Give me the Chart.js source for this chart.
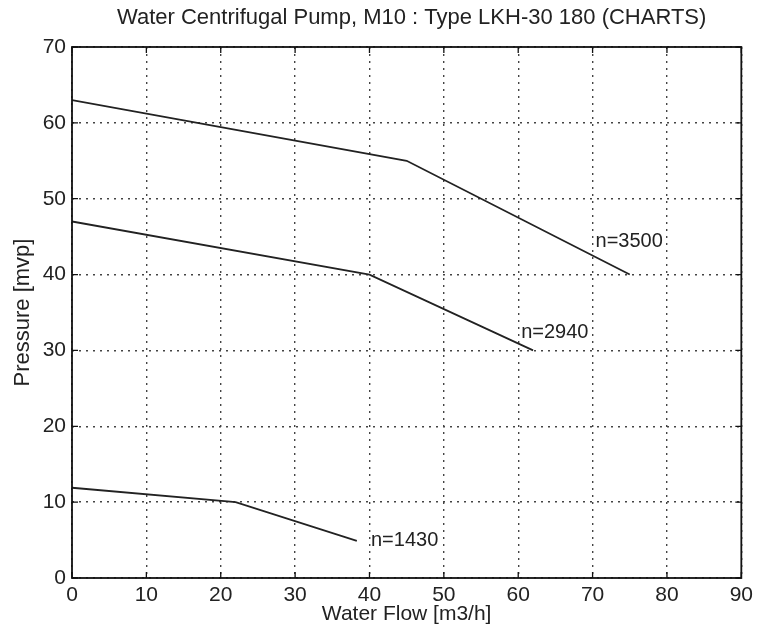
<!DOCTYPE html>
<html>
<head>
<meta charset="utf-8">
<script src="https://cdn.jsdelivr.net/npm/chart.js@4/dist/chart.umd.min.js"></script>
<style>
html,body{margin:0;padding:0;background:#fff;}
#wrap{width:758px;height:627px;position:relative;}
</style>
</head>
<body>
<div id="wrap"><canvas id="c" width="758" height="627"></canvas></div>
<script>
// ---- data ----
const flow3500 = [0, 45, 75];
const pres3500 = [63, 55, 40];
const flow2940 = [0, 40, 62];
const pres2940 = [47, 40, 30];
const flow1430 = [0, 22, 38.3];
const pres1430 = [11.9, 10, 4.9];
const curveNames = ["n=3500", "n=2940", "n=1430"];
const labelFlow = [70.4, 60.4, 40.2];
const labelPres = [44.4, 32.3, 4.9];
const xTicks = [0, 10, 20, 30, 40, 50, 60, 70, 80, 90];
const yTicks = [0, 10, 20, 30, 40, 50, 60, 70];
const chartTitle = 'Water Centrifugal Pump, M10 : Type LKH-30 180 (CHARTS)';

const FONT = '"Liberation Sans", Arial, sans-serif';
const toPts = (xs, ys) => xs.map((x, i) => ({x: x, y: ys[i]}));

const boxPlugin = {
  id: 'boxPlugin',
  afterDraw(chart) {
    const ctx = chart.ctx, a = chart.chartArea;
    const xs = chart.scales.x, ys = chart.scales.y;
    ctx.save();
    ctx.strokeStyle = '#111';
    ctx.lineWidth = 1.8;
    ctx.strokeRect(a.left, a.top, a.right - a.left, a.bottom - a.top);
    ctx.lineWidth = 1.3;
    ctx.beginPath();
    xTicks.forEach(v => {
      const px = xs.getPixelForValue(v);
      ctx.moveTo(px, a.top); ctx.lineTo(px, a.top + 6);
      ctx.moveTo(px, a.bottom); ctx.lineTo(px, a.bottom - 6);
    });
    yTicks.forEach(v => {
      const py = ys.getPixelForValue(v);
      ctx.moveTo(a.left, py); ctx.lineTo(a.left + 6, py);
      ctx.moveTo(a.right, py); ctx.lineTo(a.right - 6, py);
    });
    ctx.stroke();
    ctx.fillStyle = '#222';
    ctx.textBaseline = 'middle';
    // title
    ctx.textAlign = 'center';
    ctx.font = '22px ' + FONT;
    ctx.fillText(chartTitle, (a.left + a.right) / 2 + 5, 18);
    // curve labels
    ctx.font = '20px ' + FONT;
    ctx.textAlign = 'left';
    curveNames.forEach((t, i) => {
      ctx.fillText(t, xs.getPixelForValue(labelFlow[i]), ys.getPixelForValue(labelPres[i]));
    });
    ctx.restore();
  }
};

const lineStyle = {borderColor: '#222', borderWidth: 1.8, pointRadius: 0, fill: false, tension: 0};

new Chart(document.getElementById('c'), {
  type: 'line',
  data: {
    datasets: [
      Object.assign({label: curveNames[0], data: toPts(flow3500, pres3500)}, lineStyle),
      Object.assign({label: curveNames[1], data: toPts(flow2940, pres2940)}, lineStyle),
      Object.assign({label: curveNames[2], data: toPts(flow1430, pres1430)}, lineStyle)
    ]
  },
  options: {
    responsive: false,
    animation: false,
    layout: {padding: {left: 10, right: 16, top: 47, bottom: 0}},
    plugins: {
      legend: {display: false},
      tooltip: {enabled: false},
      title: {display: false}
    },
    scales: {
      x: {
        type: 'linear',
        min: 0, max: 90,
        afterBuildTicks: s => { s.ticks = xTicks.map(v => ({value: v})); },
        afterFit: s => { s.height = 49; },
        grid: {color: '#444', lineWidth: 1.4, drawTicks: false},
        border: {display: false, dash: [2, 5]},
        ticks: {color: '#222', font: {family: FONT, size: 21}, padding: 5, maxRotation: 0},
        title: {display: true, text: 'Water Flow [m3/h]', color: '#222',
                font: {family: FONT, size: 21}, padding: {top: -14, bottom: 0}}
      },
      y: {
        type: 'linear',
        min: 0, max: 70,
        afterBuildTicks: s => { s.ticks = yTicks.map(v => ({value: v})); },
        afterFit: s => { s.width = 62; },
        grid: {color: '#444', lineWidth: 1.4, drawTicks: false},
        border: {display: false, dash: [2, 5]},
        ticks: {color: '#222', font: {family: FONT, size: 21}, padding: 6},
        title: {display: true, text: 'Pressure [mvp]', color: '#222',
                font: {family: FONT, size: 22}, padding: {top: 0, bottom: 0}}
      }
    }
  },
  plugins: [boxPlugin]
});
</script>
</body>
</html>
